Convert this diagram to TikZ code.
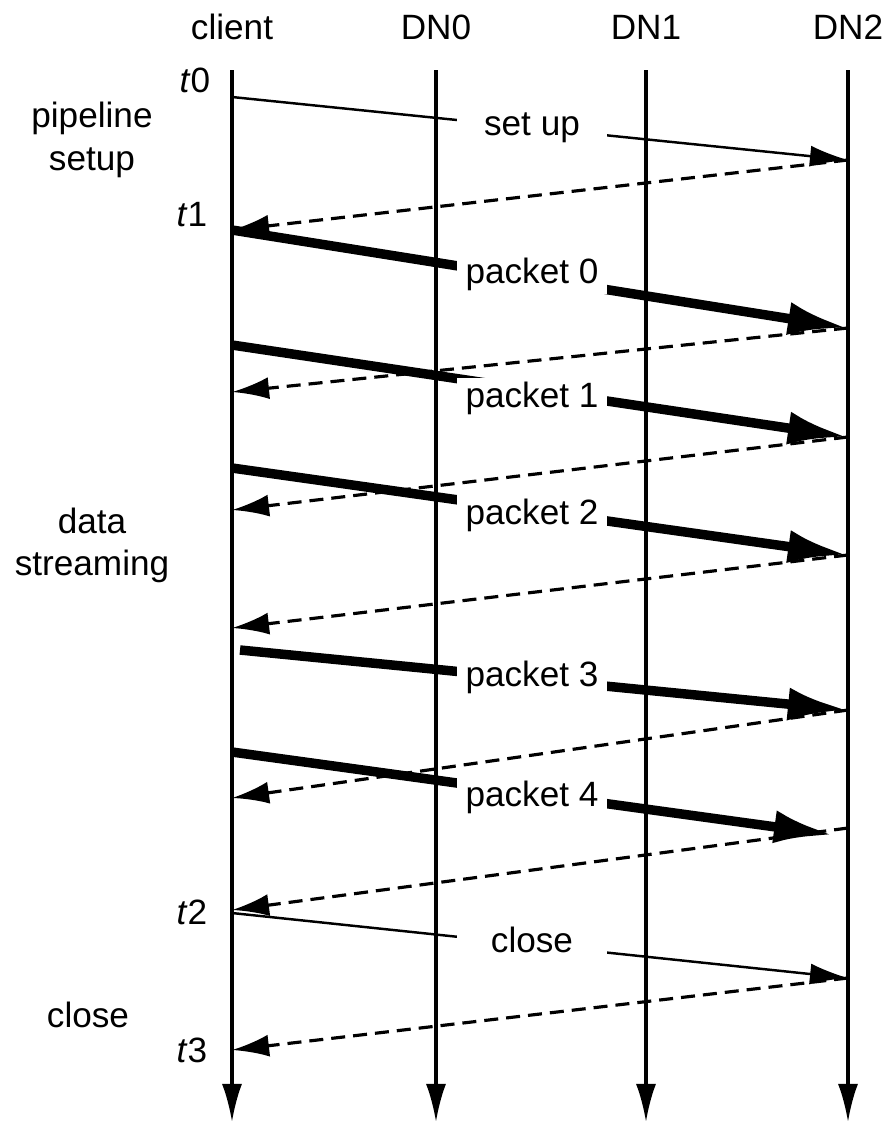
\documentclass[tikz,border=0pt]{standalone}
\usepackage{fontspec}
\setmainfont{Liberation Sans}
\usetikzlibrary{arrows.meta}

\tikzset{
  lifeline/.style={line width=0.9pt, -{Latex[length=0.38cm,width=0.2cm]}},
  msg/.style={line width=0.7pt, -{Latex[length=0.38cm,width=0.21cm]}},
  datamsg/.style={line width=2.7pt, -{Latex[length=0.6cm,width=0.33cm]}},
  ackmsg/.style={line width=0.9pt, dash pattern=on 0.14cm off 0.08cm, -{Latex[length=0.37cm,width=0.22cm]}},
  msglabel/.style={fill=white, inner sep=1pt, minimum width=1.5cm, minimum height=0.36cm},
  side/.style={align=center}
}

\begin{document}
\begin{tikzpicture}[x=0.01cm, y=-0.01cm, font=\fontsize{10}{12}\selectfont]
\useasboundingbox (0,0) rectangle (886,1133);
%% headers and lifelines
\node (client) at (232,27) {client};
\node (dn0) at (436,27) {DN0};
\node (dn1) at (646,27) {DN1};
\node (dn2) at (848,27) {DN2};
\draw[lifeline] (232,70) -- (232,1122);
\draw[lifeline] (436,70) -- (436,1122);
\draw[lifeline] (646,70) -- (646,1122);
\draw[lifeline] (848,70) -- (848,1122);
%% phase names and times on the left
\node (t0) at (195,80) {\textit{t}0};
\node (t1) at (192,215) {\textit{t}1};
\node (t2) at (192,912) {\textit{t}2};
\node (t3) at (192,1050) {\textit{t}3};
\node[side] (setup) at (92,140) {pipeline\\setup};
\node[side] (stream) at (92,545) {data\\streaming};
\node (closing) at (88,1015) {close};
%% end points on client and DN2
\coordinate (s0) at (232,97);   \coordinate (r0) at (848,160);
\coordinate (a0) at (232,230);
\coordinate (p0) at (232,230);  \coordinate (q0) at (848,328);
\coordinate (a1) at (232,392);
\coordinate (p1) at (232,345);  \coordinate (q1) at (848,437);
\coordinate (a2) at (232,510);
\coordinate (p2) at (232,468);  \coordinate (q2) at (848,555);
\coordinate (a3) at (232,628);
\coordinate (p3) at (240,650);  \coordinate (q3) at (848,710);
\coordinate (a4) at (232,798);
\coordinate (p4) at (232,752);  \coordinate (q4) at (834,835);
\coordinate (b4) at (848,828);  \coordinate (a5) at (232,910);
\coordinate (s1) at (232,913);  \coordinate (r1) at (848,978);
\coordinate (a6) at (232,1050);
%% pipeline setup
\draw[msg] (s0) -- (r0);
\node[msglabel] (lsetup) at (532,128) {set up};
\draw[ackmsg] (r0) -- (a0);
%% packets and acks
\draw[datamsg] (p0) -- (q0);
\node[msglabel] (lp0) at (532,274) {packet 0};
\draw[ackmsg] (q0) -- (a1);
\draw[datamsg] (p1) -- (q1);
\node[msglabel] (lp1) at (532,398) {packet 1};
\draw[ackmsg] (q1) -- (a2);
\draw[datamsg] (p2) -- (q2);
\node[msglabel] (lp2) at (532,515) {packet 2};
\draw[ackmsg] (q2) -- (a3);
\draw[datamsg] (p3) -- (q3);
\node[msglabel] (lp3) at (532,677) {packet 3};
\draw[ackmsg] (q3) -- (a4);
\draw[datamsg] (p4) -- (q4);
\node[msglabel] (lp4) at (532,797) {packet 4};
\draw[ackmsg] (b4) -- (a5);
%% close
\draw[msg] (s1) -- (r1);
\node[msglabel] (lclose) at (532,940) {close};
\draw[ackmsg] (r1) -- (a6);
\end{tikzpicture}
\end{document}
